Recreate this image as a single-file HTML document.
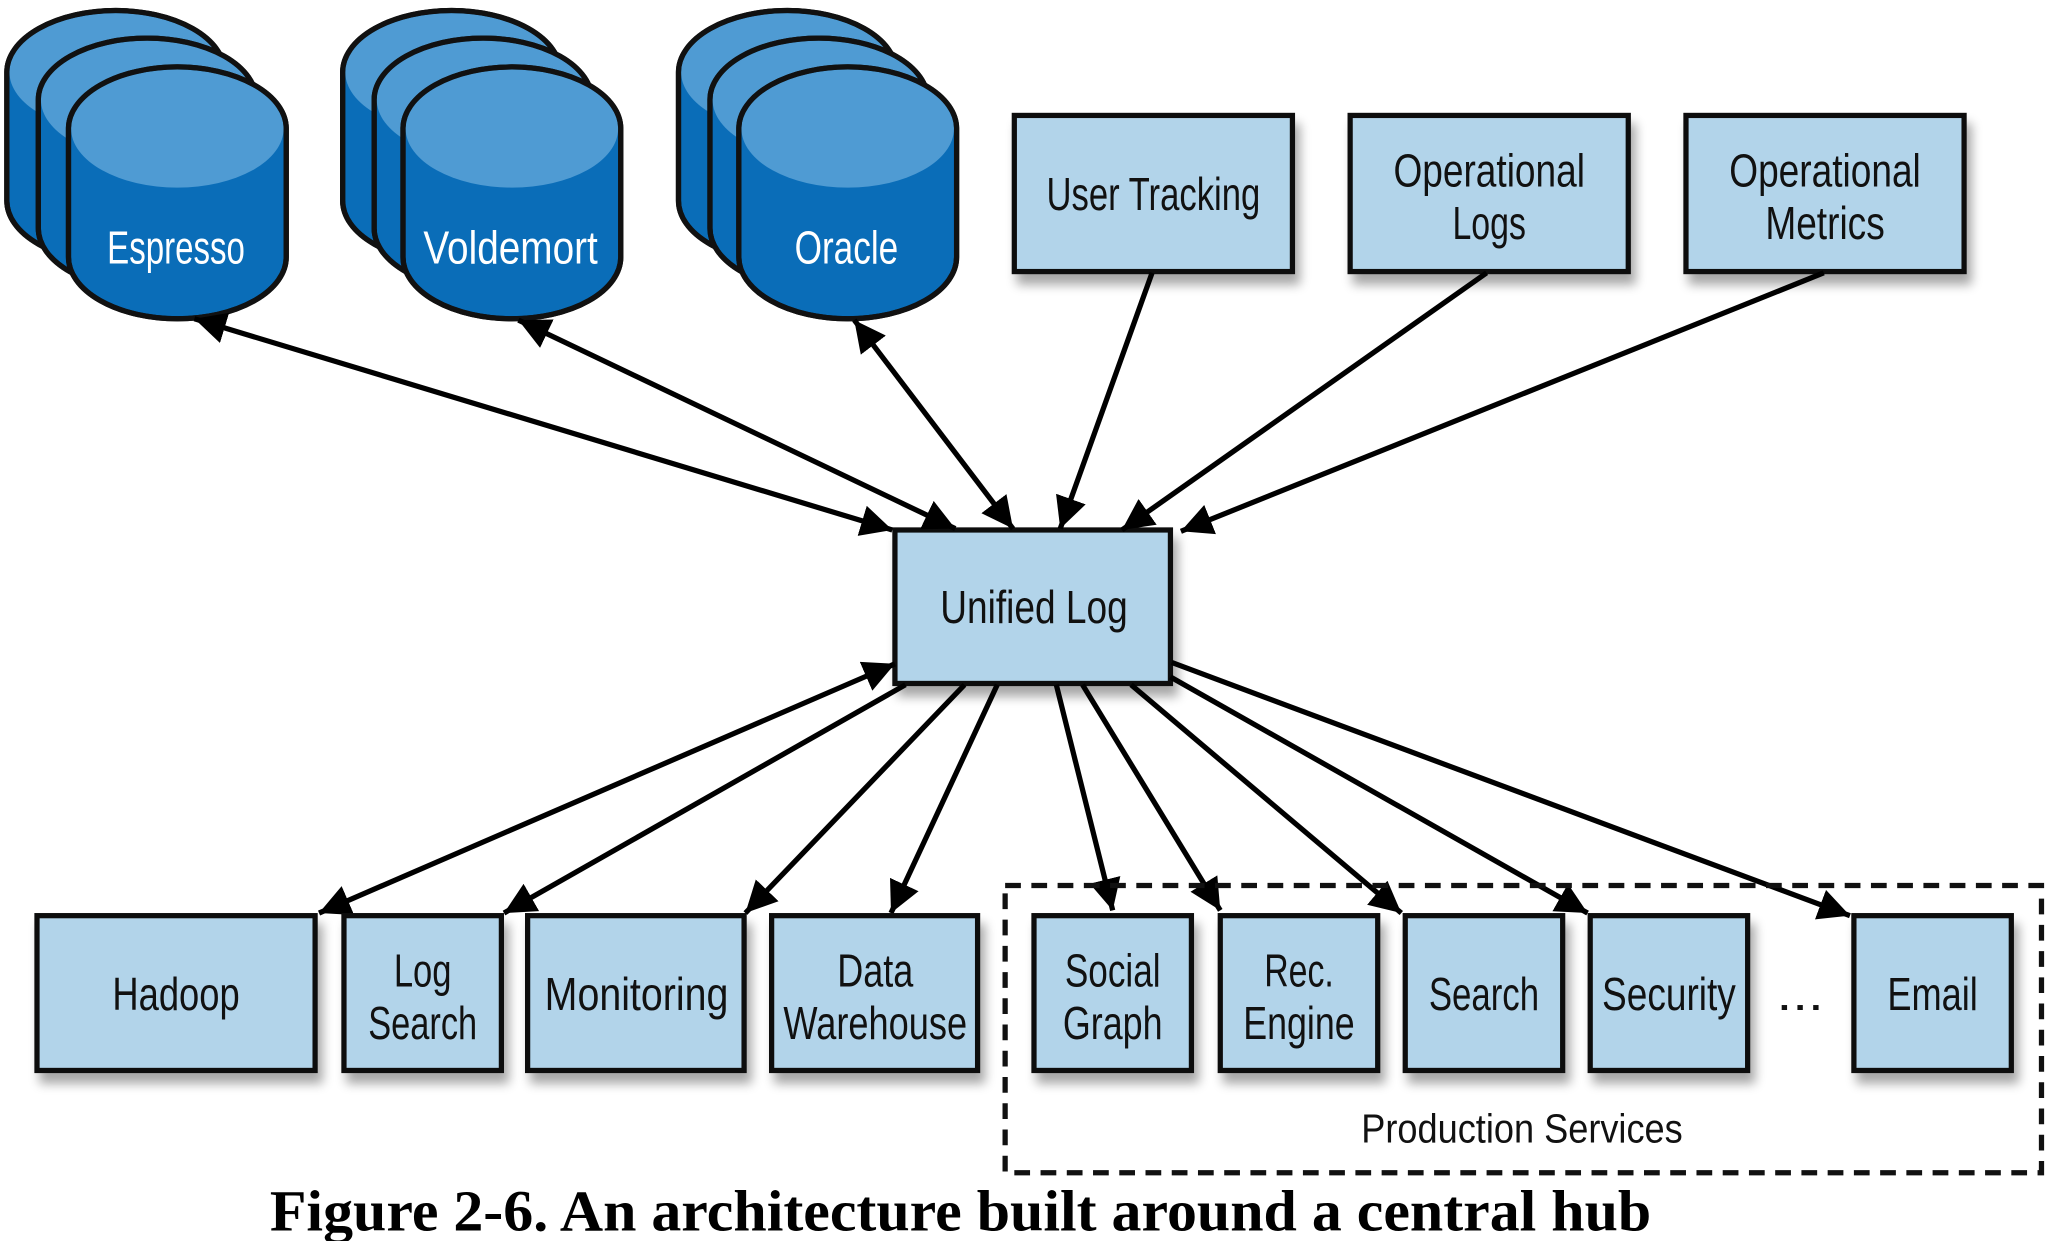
<!DOCTYPE html>
<html><head><meta charset="utf-8"><style>
html,body{margin:0;padding:0;background:#fff;}
svg{display:block;}
</style></head><body>
<svg width="2047" height="1241" viewBox="0 0 1560 946" xmlns="http://www.w3.org/2000/svg">
<defs>
<marker id="ah" viewBox="0 0 10 10" refX="10" refY="5" markerWidth="6" markerHeight="6" markerUnits="strokeWidth" orient="auto-start-reverse">
<path d="M0,0 L10,5 L0,10 z" fill="#000"/>
</marker>
<filter id="sh" x="-10%" y="-10%" width="130%" height="140%">
<feGaussianBlur in="SourceAlpha" stdDeviation="4"/>
<feOffset dx="4" dy="8"/>
<feComponentTransfer><feFuncA type="linear" slope="0.35"/></feComponentTransfer>
<feMerge><feMergeNode/><feMergeNode in="SourceGraphic"/></feMerge>
</filter>
<g id="cyl">
<path d="M0,47 A83,47 0 0 1 166,47 L166,145 A83,47 0 0 1 0,145 Z" fill="#0a6db8" stroke="#111" stroke-width="4"/>
<ellipse cx="83" cy="47" rx="81" ry="45" fill="#4f9bd3"/>
<path d="M0,47 A83,47 0 0 1 166,47 L166,145 A83,47 0 0 1 0,145 Z" fill="none" stroke="#111" stroke-width="4"/>
</g>
</defs>

<style>
.b{fill:#b2d4ea;stroke:#111;stroke-width:4;filter:url(#sh);}
.t{font-family:"Liberation Sans",sans-serif;font-size:35px;fill:#111;text-anchor:middle;}
.w{font-family:"Liberation Sans",sans-serif;font-size:35px;fill:#fff;text-anchor:middle;}
.a{stroke:#000;stroke-width:4;fill:none;}
</style>

<!-- cylinders -->
<g>
<use href="#cyl" x="5" y="8"/><use href="#cyl" x="29" y="29"/><use href="#cyl" x="52" y="51"/>
<text class="w" x="134" y="201" textLength="105" lengthAdjust="spacingAndGlyphs">Espresso</text>
</g>
<g>
<use href="#cyl" x="261" y="8"/><use href="#cyl" x="285" y="29"/><use href="#cyl" x="307" y="51"/>
<text class="w" x="389" y="201" textLength="133" lengthAdjust="spacingAndGlyphs">Voldemort</text>
</g>
<g>
<use href="#cyl" x="517" y="8"/><use href="#cyl" x="541" y="29"/><use href="#cyl" x="563" y="51"/>
<text class="w" x="645" y="201" textLength="79" lengthAdjust="spacingAndGlyphs">Oracle</text>
</g>

<!-- top boxes -->
<rect class="b" x="773" y="88" width="212" height="119"/>
<text class="t" x="879" y="160" textLength="163" lengthAdjust="spacingAndGlyphs">User Tracking</text>
<rect class="b" x="1029" y="88" width="212" height="119"/>
<text class="t" x="1135" y="142" textLength="146" lengthAdjust="spacingAndGlyphs">Operational</text>
<text class="t" x="1135" y="182" textLength="56" lengthAdjust="spacingAndGlyphs">Logs</text>
<rect class="b" x="1285" y="88" width="212" height="119"/>
<text class="t" x="1391" y="142" textLength="146" lengthAdjust="spacingAndGlyphs">Operational</text>
<text class="t" x="1391" y="182" textLength="91" lengthAdjust="spacingAndGlyphs">Metrics</text>

<!-- hub -->
<rect class="b" x="682" y="404" width="210" height="117"/>
<text class="t" x="788" y="475" textLength="143" lengthAdjust="spacingAndGlyphs">Unified Log</text>

<!-- arrows top -->
<line class="a" x1="148" y1="243" x2="680" y2="404" marker-start="url(#ah)" marker-end="url(#ah)"/>
<line class="a" x1="395" y1="244" x2="728" y2="403" marker-start="url(#ah)" marker-end="url(#ah)"/>
<line class="a" x1="651" y1="244" x2="772" y2="403" marker-start="url(#ah)" marker-end="url(#ah)"/>
<line class="a" x1="878" y1="208" x2="808" y2="403" marker-end="url(#ah)"/>
<line class="a" x1="1133" y1="208" x2="855" y2="404" marker-end="url(#ah)"/>
<line class="a" x1="1390" y1="208" x2="900" y2="405" marker-end="url(#ah)"/>

<!-- arrows bottom -->
<line class="a" x1="682" y1="506" x2="243" y2="696" marker-start="url(#ah)" marker-end="url(#ah)"/>
<line class="a" x1="690" y1="522" x2="384" y2="696" marker-end="url(#ah)"/>
<line class="a" x1="735" y1="522" x2="568" y2="696" marker-end="url(#ah)"/>
<line class="a" x1="760" y1="522" x2="679" y2="696" marker-end="url(#ah)"/>
<line class="a" x1="805" y1="522" x2="848" y2="694" marker-end="url(#ah)"/>
<line class="a" x1="825" y1="522" x2="930" y2="694" marker-end="url(#ah)"/>
<line class="a" x1="862" y1="522" x2="1068" y2="696" marker-end="url(#ah)"/>
<line class="a" x1="892" y1="516" x2="1210" y2="696" marker-end="url(#ah)"/>
<line class="a" x1="893" y1="505" x2="1410" y2="698" marker-end="url(#ah)"/>

<!-- dashed region -->
<rect x="766" y="675" width="790" height="219" fill="none" stroke="#111" stroke-width="4" stroke-dasharray="12,8"/>

<!-- bottom boxes -->
<rect class="b" x="28" y="698" width="212" height="118"/>
<text class="t" x="134" y="770" textLength="97" lengthAdjust="spacingAndGlyphs">Hadoop</text>
<rect class="b" x="262" y="698" width="120" height="118"/>
<text class="t" x="322" y="752" textLength="44" lengthAdjust="spacingAndGlyphs">Log</text>
<text class="t" x="322" y="792" textLength="83" lengthAdjust="spacingAndGlyphs">Search</text>
<rect class="b" x="402" y="698" width="165" height="118"/>
<text class="t" x="485" y="770" textLength="140" lengthAdjust="spacingAndGlyphs">Monitoring</text>
<rect class="b" x="588" y="698" width="157" height="118"/>
<text class="t" x="667" y="752" textLength="58" lengthAdjust="spacingAndGlyphs">Data</text>
<text class="t" x="667" y="792" textLength="140" lengthAdjust="spacingAndGlyphs">Warehouse</text>
<rect class="b" x="788" y="698" width="120" height="118"/>
<text class="t" x="848" y="752" textLength="73" lengthAdjust="spacingAndGlyphs">Social</text>
<text class="t" x="848" y="792" textLength="76" lengthAdjust="spacingAndGlyphs">Graph</text>
<rect class="b" x="930" y="698" width="120" height="118"/>
<text class="t" x="990" y="752" textLength="53" lengthAdjust="spacingAndGlyphs">Rec.</text>
<text class="t" x="990" y="792" textLength="85" lengthAdjust="spacingAndGlyphs">Engine</text>
<rect class="b" x="1071" y="698" width="120" height="118"/>
<text class="t" x="1131" y="770" textLength="84" lengthAdjust="spacingAndGlyphs">Search</text>
<rect class="b" x="1212" y="698" width="120" height="118"/>
<text class="t" x="1272" y="770" textLength="102" lengthAdjust="spacingAndGlyphs">Security</text>
<text class="t" x="1372" y="770" textLength="36" lengthAdjust="spacingAndGlyphs">...</text>
<rect class="b" x="1413" y="698" width="120" height="118"/>
<text class="t" x="1473" y="770" textLength="69" lengthAdjust="spacingAndGlyphs">Email</text>

<text class="t" x="1160" y="871" style="font-size:31px" textLength="245" lengthAdjust="spacingAndGlyphs">Production Services</text>

<text x="732" y="938" style="font-family:'Liberation Serif',serif;font-weight:bold;font-size:44px;fill:#000;text-anchor:middle" textLength="1053" lengthAdjust="spacingAndGlyphs">Figure 2-6. An architecture built around a central hub</text>
</svg>
</body></html>
